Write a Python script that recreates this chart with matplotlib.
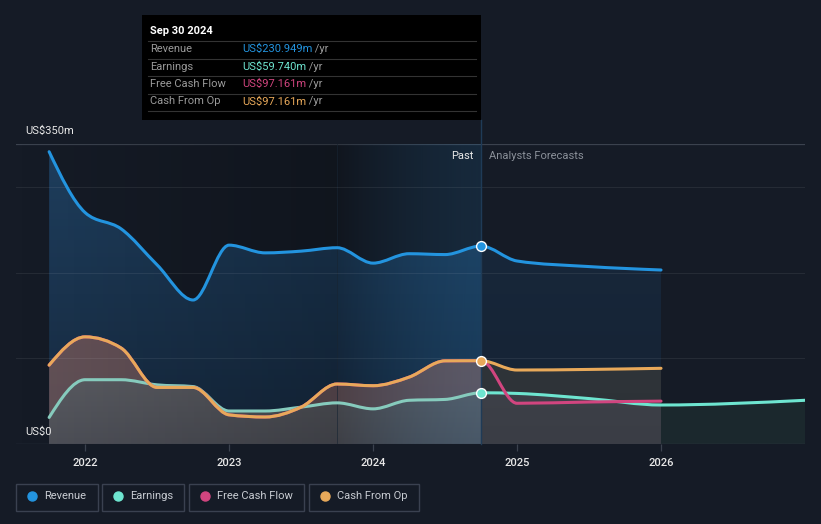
import numpy as np
import matplotlib
matplotlib.use("Agg")
import matplotlib.pyplot as plt
from matplotlib.path import Path
from matplotlib.patches import PathPatch, Rectangle
from matplotlib.lines import Line2D
from matplotlib.colors import to_rgb

plt.rcParams['font.family'] = ['Roboto', 'DejaVu Sans']

# data (US$ millions), quarterly past + analyst forecasts
past_years = [2021.75, 2022.0, 2022.25, 2022.5, 2022.75, 2023.0, 2023.25,
              2023.5, 2023.75, 2024.0, 2024.25, 2024.5, 2024.75]
revenue_past = [341, 270, 251, 209, 168, 232, 223, 225, 229, 211, 222, 221, 230.949]
earnings_past = [31, 75, 75, 69, 67, 38.5, 38.5, 43, 48, 41, 51, 52, 59.740]
fcf_past = [92, 125, 112, 66, 66, 34, 31.5, 43, 70, 68, 78, 97, 97.161]
cfo_past = [92, 125, 112, 66, 66, 34, 31.5, 43, 70, 68, 78, 97, 97.161]

rev_fc_years = [2025.0, 2025.5, 2026.0]
revenue_fc = [213.5, 207, 203]
earn_fc_years = [2025.0, 2025.5, 2026.0, 2027.0]
earnings_fc = [59, 53, 45.5, 51]
cash_fc_years = [2025.0, 2025.5, 2026.0]
fcf_fc = [47.5, 49, 50]
cfo_fc = [86.3, 87, 88.3]

year_ticks = [2022, 2023, 2024, 2025, 2026]
now = past_years[-1]
last_year_start = 2023.75

BG = '#151b26'
C_REV = '#2394df'
C_EARN = '#6ee5d0'
C_FCF = '#d1457f'
C_CFO = '#e8a95a'

W, H = 821, 524
fig = plt.figure(figsize=(W / 100, H / 100), dpi=100, facecolor=BG)
ax = fig.add_axes([16 / W, 80 / H, 789 / W, 300 / H])
ax.set_facecolor(BG)
XMIN, XMAX, YMAX = 2021.52, 2027.0, 350


def fx(px):
    return px / W


def fy(py):
    return 1 - py / H


def mono_path(x, y, close=False):
    # d3 style monotone-x cubic curve as bezier path
    x = np.asarray(x, float)
    y = np.asarray(y, float)
    n = len(x)
    h = np.diff(x)
    s = np.diff(y) / h
    t = np.zeros(n)
    for i in range(1, n - 1):
        p = (s[i - 1] * h[i] + s[i] * h[i - 1]) / (h[i - 1] + h[i])
        t[i] = (np.sign(s[i - 1]) + np.sign(s[i])) * min(abs(s[i - 1]), abs(s[i]), 0.5 * abs(p))
    if n > 2:
        t[0] = (3 * s[0] - t[1]) / 2
        t[-1] = (3 * s[-1] - t[-2]) / 2
    else:
        t[:] = s[0]
    verts = [(x[0], y[0])]
    codes = [Path.MOVETO]
    for i in range(n - 1):
        d = h[i] / 3
        verts += [(x[i] + d, y[i] + d * t[i]), (x[i + 1] - d, y[i + 1] - d * t[i + 1]), (x[i + 1], y[i + 1])]
        codes += [Path.CURVE4] * 3
    if close:
        verts += [(x[-1], 0), (x[0], 0), (x[0], y[0])]
        codes += [Path.LINETO, Path.LINETO, Path.CLOSEPOLY]
    return Path(verts, codes)


def grad_fill(path, x0, x1, top, bottom, z):
    patch = PathPatch(path, facecolor='none', edgecolor='none')
    ax.add_patch(patch)
    c0, c1 = np.array(to_rgb(top)), np.array(to_rgb(bottom))
    t = np.linspace(0, 1, 200)[:, None]
    img = (c0 * (1 - t) + c1 * t)[:, None, :]
    im = ax.imshow(img, extent=(x0, x1, 0, YMAX), aspect='auto', origin='upper',
                   zorder=z, interpolation='bilinear')
    im.set_clip_path(patch)


def draw_line(path, x0, x1, color, z):
    ln = PathPatch(path, facecolor='none', edgecolor=color, lw=2.2, zorder=z,
                   capstyle='round', joinstyle='round')
    ax.add_patch(ln)
    ln.set_clip_path(Rectangle((x0, -50), x1 - x0, 500, transform=ax.transData))


rev_x = past_years + rev_fc_years
rev_y = revenue_past + revenue_fc
earn_x = past_years + earn_fc_years
earn_y = earnings_past + earnings_fc
cash_x = past_years + cash_fc_years
fcf_y = fcf_past + fcf_fc
cfo_y = cfo_past + cfo_fc

# filled areas
rev_area = mono_path(rev_x, rev_y, close=True)
grad_fill(rev_area, past_years[0], now, '#1f4060', '#172a40', 1.0)
grad_fill(rev_area, now, rev_fc_years[-1], '#182a3e', '#162233', 1.0)

cfo_area = mono_path(cash_x, cfo_y, close=True)
grad_fill(cfo_area, past_years[0], now, '#735558', '#5e5057', 1.1)
grad_fill(cfo_area, now, cash_fc_years[-1], '#33383d', '#2d3237', 1.1)

earn_area = mono_path(earn_x, earn_y, close=True)
grad_fill(earn_area, past_years[0], now, '#888888', '#4e5058', 1.2)
grad_fill(earn_area, now, 2026.0, '#4b4e55', '#3a3d45', 1.2)
grad_fill(earn_area, 2026.0, earn_fc_years[-1], '#1f3034', '#1b282d', 1.2)

# past region shading
dark = np.zeros((1, 200, 4))
dark[..., 3] = np.linspace(0.0, 0.22, 200)
ax.imshow(dark, extent=(XMIN, last_year_start, 0, YMAX), aspect='auto', zorder=2)
band = np.zeros((1, 200, 4))
ramp = np.linspace(0, 1, 200)
band[..., :3] = np.outer(ramp, to_rgb(C_REV))[None, :, :]
band[..., 3] = 0.2 - 0.08 * ramp
ax.imshow(band, extent=(last_year_start, now, 0, YMAX), aspect='auto', zorder=2)
ax.plot([last_year_start, last_year_start], [0, YMAX], color='#1d2d3d', lw=0.6,
        alpha=0.6, zorder=2.1)
ax.plot([now, now], [0, 378], color='#1f3b57', lw=1, clip_on=False, zorder=2.5)

# grid and axes
for v in [100, 200, 300]:
    ax.axhline(v, color='white', alpha=0.07, lw=0.8, zorder=2.2)
ax.axhline(350, color='#3b424e', lw=0.9, zorder=0.5)
ax.axhline(0, color='#3b424e', lw=0.9, zorder=5)

# lines
draw_line(mono_path(earn_x, earn_y), XMIN, now, '#86cbbd', 3.0)
draw_line(mono_path(earn_x, earn_y), now, XMAX, C_EARN, 3.0)
draw_line(mono_path(cash_x, fcf_y), XMIN, XMAX, C_FCF, 3.1)
draw_line(mono_path(cash_x, cfo_y), XMIN, XMAX, C_CFO, 3.2)
draw_line(mono_path(rev_x, rev_y), XMIN, XMAX, C_REV, 3.3)

ax.scatter([now], [revenue_past[-1]], s=50, color=C_REV, edgecolor='white', lw=1, zorder=4)
ax.scatter([now], [cfo_past[-1]], s=50, color=C_CFO, edgecolor='white', lw=1, zorder=4)
ax.scatter([now], [earnings_past[-1]], s=50, color=C_EARN, edgecolor='white', lw=1, zorder=4)

ax.set_xlim(XMIN, XMAX)
ax.set_ylim(0, YMAX)
for sp in ax.spines.values():
    sp.set_visible(False)
ax.set_yticks([])
ax.set_xticks(year_ticks)
ax.set_xticklabels([str(y) for y in year_ticks])
ax.tick_params(axis='x', colors='#3b424e', length=5, width=0.9, pad=5,
               labelcolor='#e8e8e8', labelsize=8)
for lb in ax.get_xticklabels():
    lb.set_fontweight('medium')

fig.text(fx(25), fy(131), 'US$350m', color='#e8e8e8', fontsize=8, va='center')
fig.text(fx(25), fy(432), 'US$0', color='#e8e8e8', fontsize=8, va='center')
fig.text(fx(473), fy(156), 'Past', color='#e8e8e8', fontsize=8, ha='right', va='center')
fig.text(fx(489), fy(156), 'Analysts Forecasts', color='#8a9099', fontsize=8, va='center')

# tooltip
fig.add_artist(Rectangle((fx(142), fy(120)), fx(339), 105 / H, transform=fig.transFigure,
                         facecolor='black', edgecolor='none', zorder=6))
fig.text(fx(150), fy(31), 'Sep 30 2024', color='white', fontsize=8, fontweight='bold',
         va='center', zorder=7)
rows = [('Revenue', 'US$230.949m', C_REV), ('Earnings', 'US$59.740m', C_EARN),
        ('Free Cash Flow', 'US$97.161m', C_FCF), ('Cash From Op', 'US$97.161m', C_CFO)]
for i, (name, val, c) in enumerate(rows):
    ypx = 49 + i * 17.5
    fig.add_artist(Line2D([fx(148), fx(476)], [fy(ypx - 8), fy(ypx - 8)], color='#333333',
                          lw=0.8, transform=fig.transFigure, zorder=7))
    fig.text(fx(150), fy(ypx), name, color='#9a9a9a', fontsize=8, va='center', zorder=7)
    t = fig.text(fx(242), fy(ypx), val, color=c, fontsize=8, va='center', zorder=7)
    fig.add_artist(plt.Annotation(' /yr', xy=(1, 0.5), xycoords=t, va='center', ha='left',
                                  color='#9a9a9a', fontsize=8, zorder=7))
fig.add_artist(Line2D([fx(148), fx(476)], [fy(111), fy(111)], color='#333333',
                      lw=0.8, transform=fig.transFigure, zorder=7))

# legend
legend = [('Revenue', C_REV, 16, 98), ('Earnings', C_EARN, 102, 184),
          ('Free Cash Flow', C_FCF, 189, 304), ('Cash From Op', C_CFO, 309, 419)]
for name, c, x0, x1 in legend:
    fig.add_artist(Rectangle((fx(x0), fy(511)), fx(x1 - x0), 27 / H, transform=fig.transFigure,
                             facecolor='none', edgecolor='#3a4150', lw=1))
    fig.add_artist(Line2D([fx(x0 + 16)], [fy(496)], marker='o', markersize=6.5, color=c,
                          transform=fig.transFigure, lw=0))
    fig.text(fx(x0 + 28), fy(496), name, color='#c8ccd2', fontsize=8, va='center')

fig.savefig('out.png', dpi=100, facecolor=BG)
